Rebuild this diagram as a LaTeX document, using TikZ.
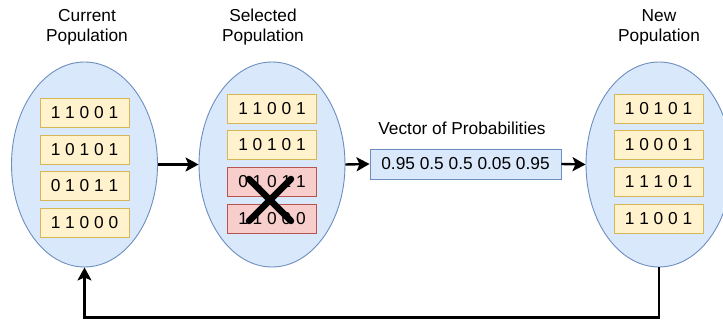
\documentclass[tikz,border=0pt]{standalone}
\usepackage{fontspec}
\setmainfont{Liberation Sans}
\usetikzlibrary{arrows.meta,shapes.geometric}
\definecolor{bluefill}{HTML}{DAE8FC}
\definecolor{bluedraw}{HTML}{6C8EBF}
\definecolor{yellowfill}{HTML}{FFF2CC}
\definecolor{yellowdraw}{HTML}{D6B656}
\definecolor{redfill}{HTML}{F8CECC}
\definecolor{reddraw}{HTML}{B85450}
\tikzset{
  txt/.style={font=\fontsize{17.3}{20}\selectfont, text=black},
  popell/.style={ellipse, draw=bluedraw, fill=bluefill, line width=0.9pt, minimum width=146pt, minimum height=205pt, inner sep=0pt},
  goodbox/.style={txt, rectangle, draw=yellowdraw, fill=yellowfill, line width=0.9pt, minimum width=89pt, minimum height=29pt, inner sep=0pt},
  badbox/.style={txt, rectangle, draw=reddraw, fill=redfill, line width=0.9pt, minimum width=89pt, minimum height=29pt, inner sep=0pt},
  vecbox/.style={txt, rectangle, draw=bluedraw, fill=bluefill, line width=0.9pt, minimum width=191pt, minimum height=30pt, inner sep=0pt},
  title/.style={txt, align=center},
  arr/.style={line width=2.4pt, -{Stealth[length=13pt,width=14pt,inset=3pt]}},
}
\begin{document}
\begin{tikzpicture}[x=1pt,y=-1pt]
\useasboundingbox (0,0) rectangle (723,320);
\clip (0,0) rectangle (723,320);

\node[title] (t1) at (87,27.5) {Current\\Population};
\node[title] (t2) at (263,27.5) {Selected\\Population};
\node[title] (t3) at (659,27.5) {New\\Population};

\node[popell] (e1) at (84.5,164.5) {};
\node[popell] (e2) at (272,164.5) {};
\node[popell] (e3) at (659,164.5) {};

\node[goodbox] (a1) at (84.5,113) {1 1 0 0 1};
\node[goodbox] (a2) at (84.5,149.5) {1 0 1 0 1};
\node[goodbox] (a3) at (84.5,186) {0 1 0 1 1};
\node[goodbox] (a4) at (84.5,223) {1 1 0 0 0};

\node[goodbox] (b1) at (272,108.5) {1 1 0 0 1};
\node[goodbox] (b2) at (272,145) {1 0 1 0 1};
\node[badbox] (b3) at (272,182) {0 1 0 1 1};
\node[badbox] (b4) at (272,218.5) {1 1 0 0 0};

\node[goodbox] (c1) at (658.5,108.5) {1 0 1 0 1};
\node[goodbox] (c2) at (658.5,145) {1 0 0 0 1};
\node[goodbox] (c3) at (658.5,182) {1 1 1 0 1};
\node[goodbox] (c4) at (658.5,218.5) {1 1 0 0 1};

\node[txt] (vl) at (462,128.5) {Vector of Probabilities};
\node[vecbox] (v) at (465.5,164) {0.95 0.5 0.5 0.05 0.95};

\coordinate (x1) at (249,179);
\coordinate (x2) at (291,221);
\coordinate (x3) at (291,179);
\coordinate (x4) at (249,221);
\draw[line width=6.5pt, line cap=round] (x1) -- (x2);
\draw[line width=6.5pt, line cap=round] (x3) -- (x4);

\draw[arr] (e1.east) -- (e2.west);
\draw[arr] (e2.east) -- (v.west);
\draw[arr] (v.east) -- (e3.west);
\draw[arr] (e3.south) -- ++(0,50) -| (e1.south);
\end{tikzpicture}
\end{document}
